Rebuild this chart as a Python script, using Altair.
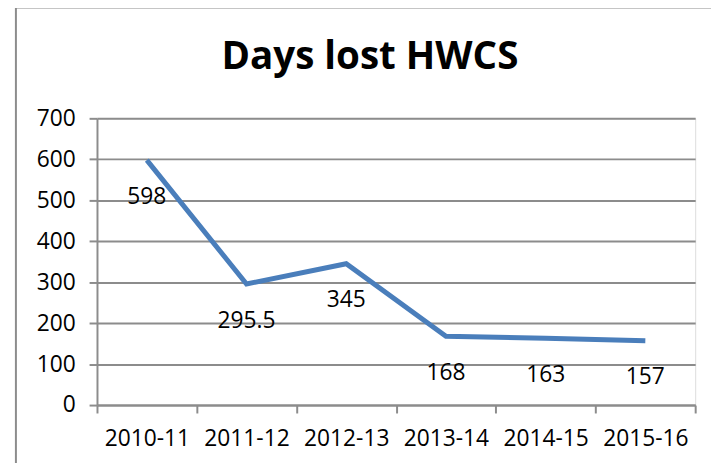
import altair as alt
import pandas as pd

years = ["2010-11", "2011-12", "2012-13", "2013-14", "2014-15", "2015-16"]
days_lost = [598, 295.5, 345, 168, 163, 157]
y_ticks = [0, 100, 200, 300, 400, 500, 600, 700]
title_text = "Days lost HWCS"

df = pd.DataFrame({"year": years, "days": days_lost})
df["label"] = [("%g" % v) for v in days_lost]

FONT = "Open Sans"
GRID = "#8c8c8c"
FS = 23

base = alt.Chart(df)

x_enc = alt.X(
    "year:N",
    sort=years,
    bandPosition=0.5,
    scale=alt.Scale(type="band", paddingInner=0, paddingOuter=0),
    axis=alt.Axis(
        title=None, labelAngle=0, tickBand="extent", ticks=True, tickSize=8,
        tickColor=GRID, tickWidth=2, domainColor=GRID, domainWidth=2,
        labelFont=FONT, labelFontSize=FS, labelColor="black", labelPadding=15,
        grid=False,
    ),
)
y_enc = alt.Y(
    "days:Q",
    scale=alt.Scale(domain=[0, 700], nice=False, zero=True),
    axis=alt.Axis(
        title=None, values=y_ticks, tickSize=8, tickColor=GRID, tickWidth=2,
        domainColor=GRID, domainWidth=2, gridColor=GRID, gridWidth=2,
        labelFont=FONT, labelFontSize=FS, labelColor="black", labelPadding=14,
        grid=True,
    ),
)

line = base.mark_line(color="#4A7EBB", strokeWidth=5, strokeJoin="miter").encode(
    x=x_enc, y=y_enc
)
labels = base.mark_text(
    font=FONT, fontSize=FS, color="black", dy=37, baseline="middle", align="center"
).encode(x=alt.X("year:N", sort=years, bandPosition=0.5), y="days:Q", text="label:N")

single = alt.Data(values=[{"t": title_text}])

border = alt.Chart(single).mark_rect(
    fill=None, stroke="#8c8c8c", strokeWidth=2
).encode(
    x=alt.value(-82), x2=alt.value(700), y=alt.value(-112), y2=alt.value(400)
)

title = alt.Chart(single).mark_text(
    font=FONT, fontSize=39, fontWeight="bold", color="black",
    align="center", baseline="alphabetic"
).encode(x=alt.value(276), y=alt.value(-50), text="t:N")

chart = alt.layer(border, title, line, labels).properties(
    width=605,
    height=290,
    autosize=alt.AutoSizeParams(type="none"),
    padding={"left": 90, "top": 109, "right": 16, "bottom": 56},
).configure_view(stroke=None).configure(background="white")

chart.save("out.html", embed_options={"renderer": "svg", "actions": False})
